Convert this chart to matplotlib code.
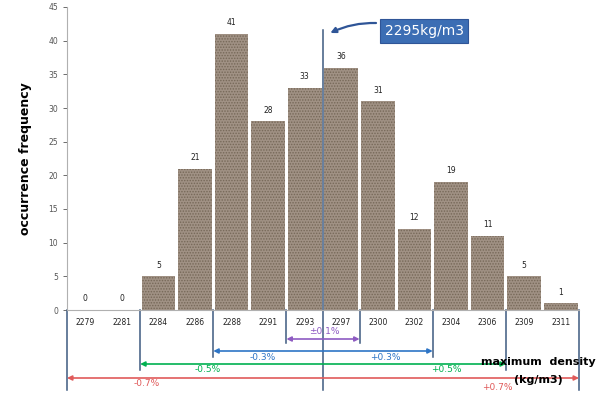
import matplotlib
matplotlib.use("Agg")
import matplotlib.pyplot as plt
import matplotlib.transforms as mtransforms

densities = ["2279", "2281", "2284", "2286", "2288", "2291", "2293",
             "2297", "2300", "2302", "2304", "2306", "2309", "2311"]
counts = [0, 0, 5, 21, 41, 28, 33, 36, 31, 12, 19, 11, 5, 1]

# tolerance ranges: (label low, label high, left boundary, right boundary, colour)
ranges = [
    ("\u00b10.1%", None, 6, 8, "#8e5bc2"),
    ("-0.3%", "+0.3%", 4, 10, "#2e75c6"),
    ("-0.5%", "+0.5%", 2, 12, "#00b050"),
    ("-0.7%", "+0.7%", 0, 14, "#e05a5a"),
]
mean_density = "2295kg/m3"

W, H = 600, 399
fig = plt.figure(figsize=(6, 3.99), dpi=100)
ax = fig.add_axes([67 / W, 1 - 310 / H, 512 / W, 303 / H])

def fy(py):
    return 1 - py / H

xs = [i + 0.5 for i in range(len(counts))]
plt.rcParams['hatch.linewidth'] = 0.7
ax.bar(xs, counts, width=0.92, color="#a09184", edgecolor="#766858",
       linewidth=0, hatch="......")
for x, c in zip(xs, counts):
    ax.text(x, c + 1.0, str(c), ha="center", va="bottom", fontsize=5.5, color="#222222")

ax.set_xlim(0, 14)
ax.set_ylim(0, 45)
ax.set_yticks(range(0, 46, 5))
ax.tick_params(axis="y", labelsize=5.5, colors="#555555", length=3, width=0.6)
ax.set_xticks(xs)
ax.set_xticklabels(densities)
ax.tick_params(axis="x", labelsize=5.5, length=0, pad=6, labelcolor="#222222")
for s in ["top", "right"]:
    ax.spines[s].set_visible(False)
ax.spines["left"].set_color("#b0b0b0")
ax.spines["bottom"].set_color("#b0b0b0")
ax.spines["left"].set_linewidth(0.8)
ax.spines["bottom"].set_linewidth(0.8)
ax.set_ylabel("occurrence frequency", fontsize=9, fontweight="bold", labelpad=12)

tr = mtransforms.blended_transform_factory(ax.transData, fig.transFigure)
line_col = "#3d5a80"

# vertical boundary lines and arrows
arrow_y = [339, 351, 364, 378]
line_bottom = [343, 357, 370, 390]
low_pos = [(7.03, 332), (5.36, 357), (3.86, 370), (2.19, 383)]
high_pos = [None, (8.7, 357), (10.36, 370), (11.76, 387)]
for (lo, hi, a, b, col), yy, yb, lp, hp in zip(ranges, arrow_y, line_bottom, low_pos, high_pos):
    for xb in (a, b):
        ax.plot([xb, xb], [fy(310), fy(yb)], color=line_col, lw=1.1,
                transform=tr, clip_on=False)
    ax.annotate("", xy=(a, fy(yy)), xytext=(b, fy(yy)), xycoords=tr, textcoords=tr,
                arrowprops=dict(arrowstyle="<|-|>", color=col, lw=1.2,
                                mutation_scale=7, shrinkA=0, shrinkB=0))
    ax.text(lp[0], fy(lp[1]), lo, color=col, fontsize=6.5, ha="center", va="center",
            transform=tr)
    if hi is not None:
        ax.text(hp[0], fy(hp[1]), hi, color=col, fontsize=6.5, ha="center", va="center",
                transform=tr)

# mean density line
ax.plot([7, 7], [fy(30), fy(390)], color=line_col, lw=1.1, transform=tr, clip_on=False)

ax.text(12.9, fy(362), "maximum  density", fontsize=8, fontweight="bold",
        ha="center", va="center", transform=tr)
ax.text(12.9, fy(380), "(kg/m3)", fontsize=8, fontweight="bold",
        ha="center", va="center", transform=tr)

# callout
fig.text(424 / W, fy(31), mean_density, fontsize=10, color="white", ha="center",
         va="center",
         bbox=dict(boxstyle="square,pad=0.33", fc="#3c6eb4", ec="#2f5597", lw=0.8))
ax.annotate("", xy=(7.2, fy(33)), xytext=(8.45, fy(23)), xycoords=tr, textcoords=tr,
            arrowprops=dict(arrowstyle="-|>", color="#2f5597", lw=1.6,
                            mutation_scale=8, shrinkA=0, shrinkB=0,
                            connectionstyle="arc3,rad=0.12"))

fig.savefig("out.png", dpi=100)
